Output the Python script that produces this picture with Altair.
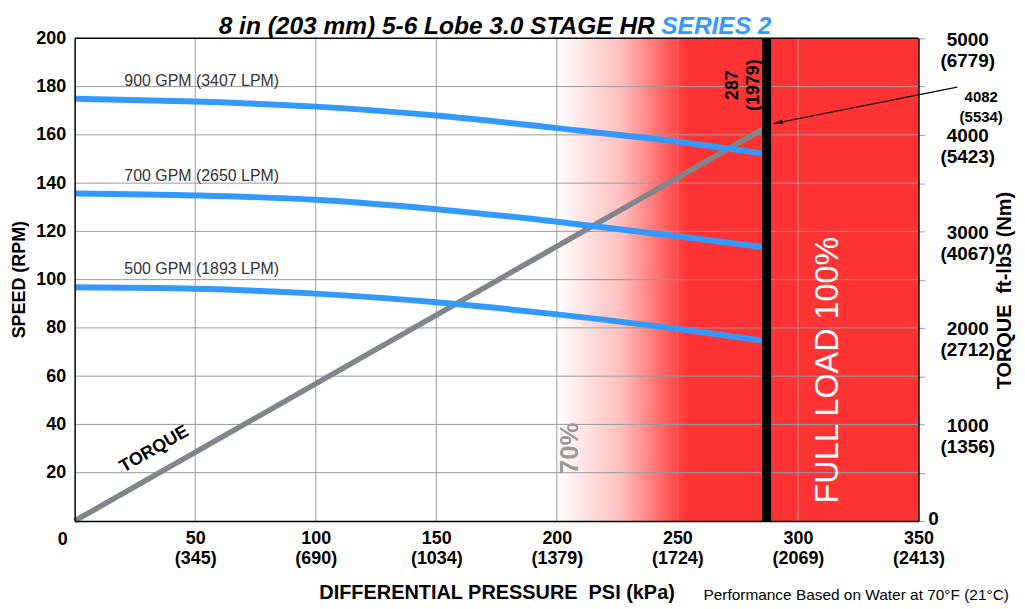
import altair as alt
import pandas as pd

FONT = "Liberation Sans"
BLUE = "#3399ff"
GRAY = "#80868b"
RED = "#ff3333"
GRID = "#9a9a9a"
NBSP = "\u00a0"

# ---------------- data ----------------
psi_points = [0, 50, 100, 150, 200, 250, 286]
speed_900 = [175.0, 173.8, 171.7, 168.0, 162.8, 157.2, 152.2]
speed_700 = [135.7, 134.9, 133.1, 129.2, 124.0, 118.0, 113.4]
speed_500 = [96.8, 96.2, 94.2, 90.6, 85.6, 79.6, 74.7]
flow_names = ["900 GPM", "700 GPM", "500 GPM"]
flow_labels = ["900 GPM (3407 LPM)", "700 GPM (2650 LPM)", "500 GPM (1893 LPM)"]

torque_psi = [0, 287]
torque_ftlb = [0, 4082]

full_load_psi = 287
full_load_kpa = "(1979)"
full_load_torque = "4082"
full_load_torque_nm = "(5534)"

zone_start = 200
zone_end = 350

x_ticks = [0, 50, 100, 150, 200, 250, 300, 350]
kpa_labels = ["", "(345)", "(690)", "(1034)", "(1379)", "(1724)", "(2069)", "(2413)"]
y_ticks = [20, 40, 60, 80, 100, 120, 140, 160, 180, 200]
grid_psi = [50, 100, 150, 200, 250, 300]
grid_rpm = [20, 40, 60, 80, 100, 120, 140, 160, 180]
torque_ticks = [0, 500, 1000, 1500, 2000, 2500, 3000, 3500, 4000, 4500, 5000]
torque_label_values = [1000, 2000, 3000, 4000, 5000]
nm_labels = ["(1356)", "(2712)", "(4067)", "(5423)", "(6779)"]

# ---------------- tables ----------------
curves = pd.DataFrame({
    "psi": psi_points * 3,
    "rpm": speed_900 + speed_700 + speed_500,
    "flow": [n for n in flow_names for _ in psi_points],
})
torque_df = pd.DataFrame({"psi": torque_psi, "torque": torque_ftlb})

x_expr = "".join(
    f"datum.value == {v} ? ['{v}', '{k}'] : " for v, k in zip(x_ticks, kpa_labels) if v != 0
) + "''"
t_expr = "".join(
    f"datum.value == {v} ? ['{v}', '{k}'] : " for v, k in zip(torque_label_values, nm_labels)
) + "''"

XSCALE = alt.Scale(domain=[0, 350], nice=False, zero=False)
YSCALE = alt.Scale(domain=[0, 200], nice=False, zero=False)

XAXIS = alt.Axis(
    values=x_ticks, labelExpr=x_expr, grid=False, ticks=False,
    domainColor="black", domainWidth=1.5, zindex=1,
    labelFont=FONT, labelFontSize=18, labelFontWeight="bold", labelColor="black",
    labelPadding=9, labelLineHeight=20, labelBaseline="top", labelAlign="center",
    labelFlush=False, labelOverlap=False,
    title="DIFFERENTIAL PRESSURE" + NBSP + NBSP + "PSI (kPa)", titleFont=FONT, titleFontSize=20,
    titleFontWeight="bold", titleColor="black", titleX=424, titleY=72,
    titleAlign="center", titleBaseline="middle",
)
YAXIS = alt.Axis(
    values=y_ticks, grid=False, ticks=False, domainColor="black", domainWidth=1.5,
    zindex=1, labelFont=FONT, labelFontSize=18, labelFontWeight="bold",
    labelColor="black", labelPadding=9, labelOverlap=False,
    title="SPEED (RPM)", titleFont=FONT, titleFontSize=18, titleFontWeight="bold",
    titleColor="black", titleAngle=270, titleX=-55, titleY=242,
    titleAlign="center", titleBaseline="middle",
)


def X(field="psi"):
    return alt.X(f"{field}:Q", scale=XSCALE, axis=XAXIS)


def Yb(field="rpm"):
    return alt.Y(f"{field}:Q", scale=YSCALE, axis=YAXIS)


def Yt(field="rpm"):
    return alt.Y(f"{field}:Q", scale=YSCALE, axis=None)


# ---------------- bottom group: zone + grid ----------------
zone_df = pd.DataFrame({"psi": [zone_start], "psi2": [zone_end], "rpm": [0], "rpm2": [200]})
gradient = alt.LinearGradient(
    gradient="linear",
    stops=[
        alt.GradientStop(color="#ffffff", offset=0),
        alt.GradientStop(color="#ffbdbd", offset=0.18),
        alt.GradientStop(color=RED, offset=0.36),
        alt.GradientStop(color=RED, offset=1),
    ],
    x1=0, x2=1, y1=0, y2=0,
)
zone = alt.Chart(zone_df).mark_rect(fill=gradient).encode(
    x=X(), x2="psi2", y=Yb(), y2="rpm2"
)
vgrid = alt.Chart(pd.DataFrame({"psi": grid_psi, "rpm": [0] * len(grid_psi), "rpm2": [200] * len(grid_psi)})).mark_rule(
    color=GRID, strokeWidth=1
).encode(x=X(), y=Yb(), y2="rpm2")
hgrid = alt.Chart(pd.DataFrame({"rpm": grid_rpm, "psi": [0] * len(grid_rpm), "psi2": [350] * len(grid_rpm)})).mark_rule(
    color=GRID, strokeWidth=1
).encode(y=Yb(), x=X(), x2="psi2")
bottom = alt.layer(zone, vgrid, hgrid)

# ---------------- torque (right axis) ----------------
TAXIS = alt.Axis(
    orient="right", values=torque_ticks, labelExpr=t_expr, grid=False,
    ticks=True, tickSize=6, tickColor="#999999", tickWidth=1,
    domainColor="black", domainWidth=1.5, zindex=1,
    labelFont=FONT, labelFontSize=19, labelFontWeight="bold", labelColor="black",
    labelAlign="center", labelPadding=43, labelBaseline="middle", labelLineHeight=21,
    labelOffset=1, labelOverlap=False, labelFlush=False,
    title="TORQUE" + NBSP + NBSP + "ft-lbS (Nm)", titleFont=FONT, titleFontSize=20, titleFontWeight="bold",
    titleColor="black", titleAngle=270, titleX=86, titleY=253,
    titleAlign="center", titleBaseline="middle",
)
torque = alt.Chart(torque_df).mark_line(color=GRAY, strokeWidth=5.5, strokeCap="butt").encode(
    x=X(), y=alt.Y("torque:Q", scale=alt.Scale(domain=[0, 5000], nice=False, zero=False), axis=TAXIS)
)

# ---------------- top group ----------------
lines = alt.Chart(curves).mark_line(color=BLUE, strokeWidth=6, interpolate="monotone", strokeCap="butt").encode(
    x=X(), y=Yt(), detail="flow:N"
)
full_df = pd.DataFrame({"psi": [full_load_psi], "rpm": [0], "rpm2": [200]})
full_line = alt.Chart(full_df).mark_rule(color="black", strokeWidth=9).encode(x=X(), y=Yt(), y2="rpm2")

top_border = alt.Chart(pd.DataFrame({"psi": [0], "psi2": [350], "rpm": [200]})).mark_rule(
    color="black", strokeWidth=1.5
).encode(x=X(), x2="psi2", y=Yt())

flow_text = alt.Chart(pd.DataFrame({"psi": [20.6] * 3, "rpm": [182.3, 143.1, 104.6], "t": flow_labels})).mark_text(
    font=FONT, fontSize=16, color="#333333", align="left", baseline="middle"
).encode(x=X(), y=Yt(), text="t:N")

torque_text = alt.Chart(pd.DataFrame({"psi": [33.0], "rpm": [29.7], "t": ["TORQUE"]})).mark_text(
    font=FONT, fontSize=18, fontWeight="bold", color="black", angle=330, align="center", baseline="middle"
).encode(x=X(), y=Yt(), text="t:N")

pct70 = alt.Chart(pd.DataFrame({"psi": [205.3], "rpm": [30.1], "t": ["70%"]})).mark_text(
    font=FONT, fontSize=26, fontWeight="bold", color="#9a9a9a", angle=270, align="center", baseline="middle"
).encode(x=X(), y=Yt(), text="t:N")

full_text = alt.Chart(pd.DataFrame({"psi": [312.4], "rpm": [62.5], "t": ["FULL LOAD 100%"]})).mark_text(
    font=FONT, fontSize=32.5, color="white", angle=270, align="center", baseline="middle"
).encode(x=X(), y=Yt(), text="t:N")

psi_text = alt.Chart(pd.DataFrame({"psi": [273.2], "rpm": [180.6]})).mark_text(
    font=FONT, fontSize=18, fontWeight="bold", color="black", angle=270, align="center",
    baseline="middle", lineHeight=21, text=[str(full_load_psi), full_load_kpa]
).encode(x=X(), y=Yt())

tq_text = alt.Chart(pd.DataFrame({"psi": [376.0], "rpm": [175.8]})).mark_text(
    font=FONT, fontSize=15, fontWeight="bold", color="black", align="center",
    baseline="middle", lineHeight=20, text=[full_load_torque, full_load_torque_nm]
).encode(x=X(), y=Yt())

arrow_df = pd.DataFrame({"psi": [366.1], "rpm": [179.8], "psi2": [290.0], "rpm2": [164.7]})
arrow_line = alt.Chart(arrow_df).mark_rule(color="black", strokeWidth=1.2).encode(
    x=X(), y=Yt(), x2="psi2", y2="rpm2"
)
arrow_head = alt.Chart(pd.DataFrame({"psi": [290.0], "rpm": [164.7]})).mark_point(
    shape="M0,0L0.3,1.1L-0.3,1.1Z", size=256, filled=True, color="black", opacity=1,
    angle=258.7, strokeWidth=0
).encode(x=X(), y=Yt())

zero_left = alt.Chart(pd.DataFrame({"psi": [0], "rpm": [0]})).mark_text(
    font=FONT, fontSize=18, fontWeight="bold", color="black", align="center",
    baseline="middle", dx=-12, dy=19, text="0"
).encode(x=X(), y=Yt())
zero_right = alt.Chart(pd.DataFrame({"psi": [350], "rpm": [0]})).mark_text(
    font=FONT, fontSize=19, fontWeight="bold", color="black", align="center",
    baseline="middle", dx=15, dy=-2, text="0"
).encode(x=X(), y=Yt())

footnote = alt.Chart(pd.DataFrame({"psi": [260.8], "rpm": [-30.9], "t": ["Performance Based on Water at 70°F (21°C)"]})).mark_text(
    font=FONT, fontSize=15.5, color="black", align="left", baseline="middle"
).encode(x=X(), y=Yt(), text="t:N")

title_black = alt.Chart(pd.DataFrame({"psi": [240.6], "rpm": [201.8], "t": ["8 in (203 mm) 5-6 Lobe 3.0 STAGE HR"]})).mark_text(
    font=FONT, fontSize=24.6, fontWeight="bold", fontStyle="italic", color="black",
    align="right", baseline="alphabetic"
).encode(x=X(), y=Yt(), text="t:N")
title_blue = alt.Chart(pd.DataFrame({"psi": [243.3], "rpm": [201.8], "t": ["SERIES 2"]})).mark_text(
    font=FONT, fontSize=24.6, fontWeight="bold", fontStyle="italic", color=BLUE,
    align="left", baseline="alphabetic"
).encode(x=X(), y=Yt(), text="t:N")

top = alt.layer(
    lines, full_line, top_border, flow_text, torque_text, pct70, full_text,
    psi_text, tq_text, arrow_line, arrow_head, zero_left, zero_right,
    footnote, title_black, title_blue,
)

chart = alt.layer(bottom, torque, top).resolve_scale(y="independent").properties(
    width=848, height=485,
    autosize=alt.AutoSizeParams(type="none"),
    padding={"left": 67, "top": 29, "right": 99, "bottom": 83},
    background="white",
).configure_view(strokeWidth=0)

chart.save("out.html", embed_options={"renderer": "svg", "actions": False})
